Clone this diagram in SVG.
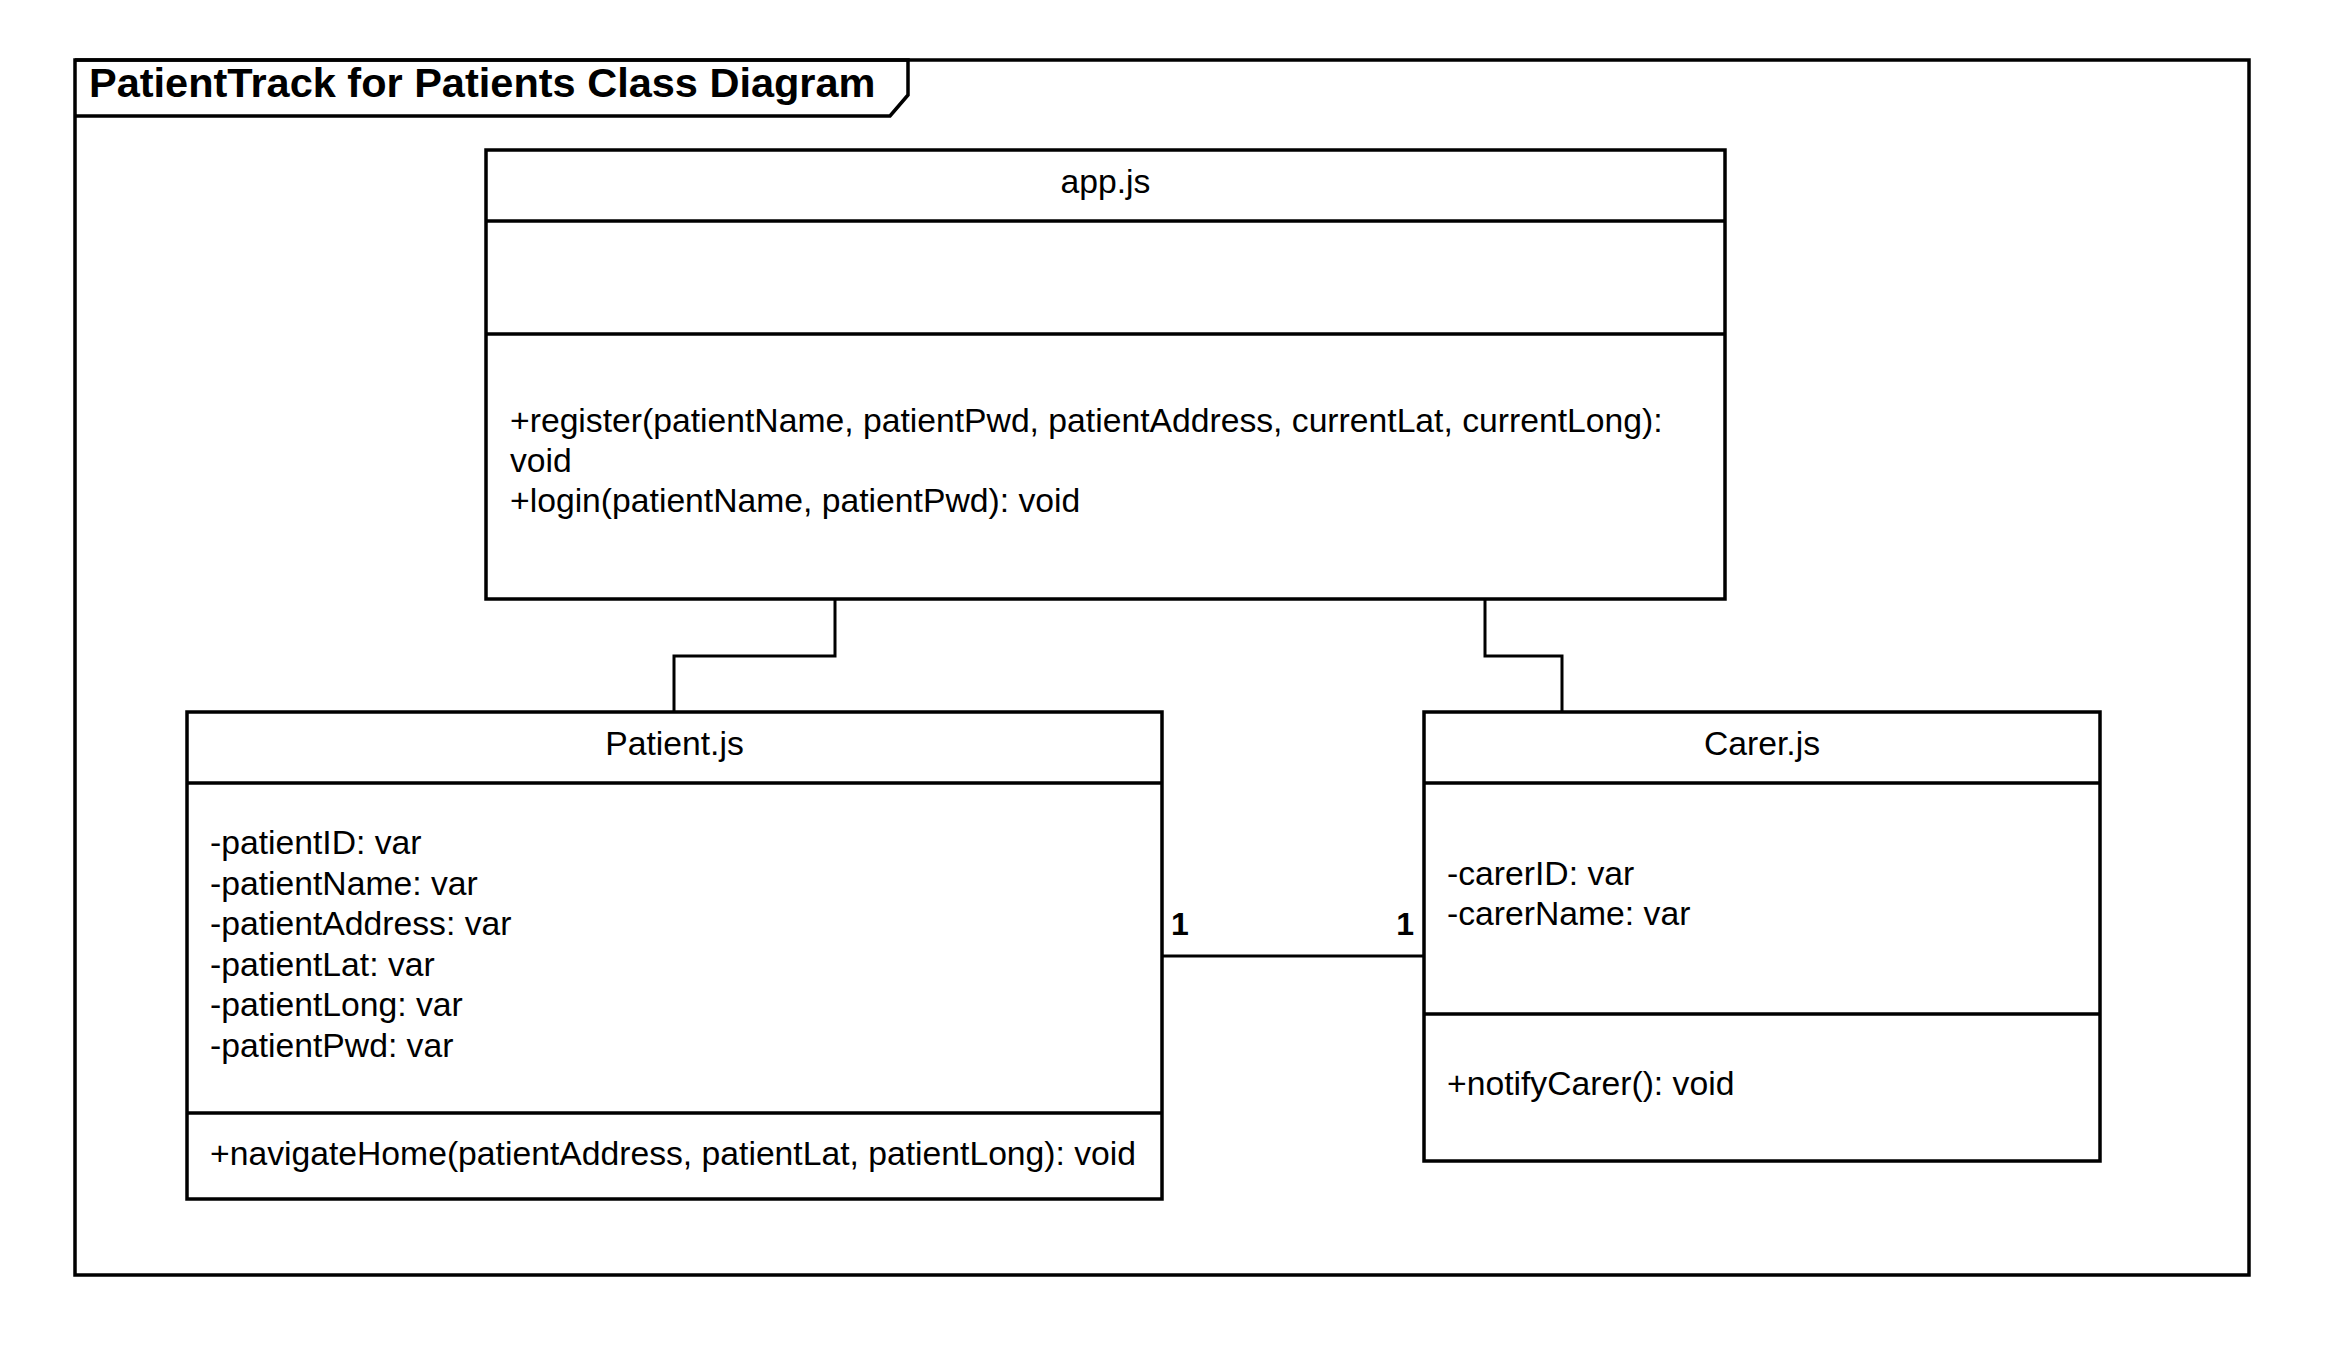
<svg xmlns="http://www.w3.org/2000/svg" width="2325" height="1350" viewBox="0 0 2325 1350">
<style>
.box{fill:#fff;stroke:#000;stroke-width:3.5}
.div{stroke:#000;stroke-width:3.5;fill:none}
.conn{stroke:#000;stroke-width:3;fill:none}
.t{font-family:"Liberation Sans",Arial,sans-serif;font-size:33.7px;fill:#000}
.c{text-anchor:middle}
.m{font-family:"Liberation Sans",Arial,sans-serif;font-size:32px;font-weight:bold;fill:#000}
.title{font-family:"Liberation Sans",Arial,sans-serif;font-size:41.5px;font-weight:bold;fill:#000}
</style>
<rect width="2325" height="1350" fill="#fff"/>
<g id="frame">
<rect x="75" y="60" width="2174" height="1215" fill="none" stroke="#000" stroke-width="3.5"/>
<path d="M75,60 L908,60 L908,95 L890,116 L75,116" fill="none" stroke="#000" stroke-width="3.5"/>
<text class="title" x="89" y="97">PatientTrack for Patients Class Diagram</text>
</g>
<g id="connectors">
<path class="conn" d="M835,600 L835,656 L674,656 L674,712"/>
<path class="conn" d="M1485,600 L1485,656 L1562,656 L1562,712"/>
<path class="conn" d="M1163,956 L1424,956"/>
<text class="m" x="1171" y="935">1</text>
<text class="m" x="1414" y="935" text-anchor="end">1</text>
</g>
<g id="app">
<rect class="box" x="486" y="150" width="1239" height="449"/>
<line class="div" x1="486" y1="221" x2="1725" y2="221"/>
<line class="div" x1="486" y1="334" x2="1725" y2="334"/>
<text class="t c" x="1105.5" y="193">app.js</text>
<text class="t" x="510" y="432">+register(patientName, patientPwd, patientAddress, currentLat, currentLong):</text>
<text class="t" x="510" y="472">void</text>
<text class="t" x="510" y="512">+login(patientName, patientPwd): void</text>
</g>
<g id="patient">
<rect class="box" x="187" y="712" width="975" height="487"/>
<line class="div" x1="187" y1="783" x2="1162" y2="783"/>
<line class="div" x1="187" y1="1113" x2="1162" y2="1113"/>
<text class="t c" x="674.5" y="755">Patient.js</text>
<text class="t" x="210" y="854">-patientID: var</text>
<text class="t" x="210" y="894.6">-patientName: var</text>
<text class="t" x="210" y="935.2">-patientAddress: var</text>
<text class="t" x="210" y="975.8">-patientLat: var</text>
<text class="t" x="210" y="1016.4">-patientLong: var</text>
<text class="t" x="210" y="1057">-patientPwd: var</text>
<text class="t" x="210" y="1165">+navigateHome(patientAddress, patientLat, patientLong): void</text>
</g>
<g id="carer">
<rect class="box" x="1424" y="712" width="676" height="449"/>
<line class="div" x1="1424" y1="783" x2="2100" y2="783"/>
<line class="div" x1="1424" y1="1014" x2="2100" y2="1014"/>
<text class="t c" x="1762" y="755">Carer.js</text>
<text class="t" x="1447" y="885">-carerID: var</text>
<text class="t" x="1447" y="925">-carerName: var</text>
<text class="t" x="1447" y="1095">+notifyCarer(): void</text>
</g>
</svg>
